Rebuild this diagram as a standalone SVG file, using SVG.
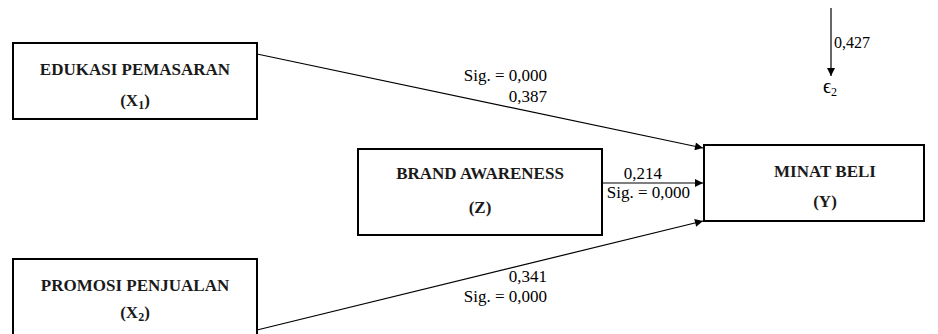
<svg xmlns="http://www.w3.org/2000/svg" width="938" height="334" viewBox="0 0 938 334">
<defs>
<marker id="ah" viewBox="0 0 10 10" refX="10" refY="5" markerWidth="10" markerHeight="8" markerUnits="userSpaceOnUse" orient="auto">
<path d="M0,0 L10,5 L0,10 Z" fill="#000"/>
</marker>
</defs>
<rect width="938" height="334" fill="#fff"/>
<g id="connectors" stroke="#000" stroke-width="1.2" fill="none">
<line x1="257" y1="54" x2="703" y2="148" marker-end="url(#ah)"/>
<line x1="257" y1="330" x2="703" y2="221" marker-end="url(#ah)"/>
<line x1="602" y1="183" x2="703" y2="183" marker-end="url(#ah)"/>
<line x1="831" y1="8" x2="831" y2="76" marker-end="url(#ah)"/>
</g>
<g id="labels" fill="#000" stroke="none">
<text x="547" y="81" text-anchor="end" font-family="Liberation Serif" font-size="17">Sig. = 0,000</text>
<text x="547" y="102" text-anchor="end" font-family="Liberation Serif" font-size="17">0,387</text>
<text x="662" y="179" text-anchor="end" font-family="Liberation Serif" font-size="17">0,214</text>
<text x="690" y="198" text-anchor="end" font-family="Liberation Serif" font-size="17">Sig. = 0,000</text>
<text x="547" y="282" text-anchor="end" font-family="Liberation Serif" font-size="17">0,341</text>
<text x="547" y="302" text-anchor="end" font-family="Liberation Serif" font-size="17">Sig. = 0,000</text>
<text x="834" y="48" font-family="Liberation Serif" font-size="16">0,427</text>
<text x="823" y="93" font-family="Liberation Serif" font-size="20">ϵ<tspan dy="3" font-size="12">2</tspan></text>
</g>
<g id="edukasi">
<rect x="13" y="43" width="244" height="76" fill="#fff" stroke="#000" stroke-width="2"/>
<text x="135" y="75" text-anchor="middle" font-family="Liberation Serif" font-weight="bold" font-size="17" fill="#1a1a1a">EDUKASI PEMASARAN</text>
<text x="135" y="106" text-anchor="middle" font-family="Liberation Serif" font-weight="bold" font-size="17" fill="#1a1a1a">(X<tspan dy="3" font-size="12">1</tspan><tspan dy="-3">)</tspan></text>
</g>
<g id="promosi">
<rect x="13" y="259" width="244" height="90" fill="#fff" stroke="#000" stroke-width="2"/>
<text x="135" y="291" text-anchor="middle" font-family="Liberation Serif" font-weight="bold" font-size="17" fill="#1a1a1a">PROMOSI PENJUALAN</text>
<text x="135" y="318" text-anchor="middle" font-family="Liberation Serif" font-weight="bold" font-size="17" fill="#1a1a1a">(X<tspan dy="3" font-size="12">2</tspan><tspan dy="-3">)</tspan></text>
</g>
<g id="brand">
<rect x="358" y="149" width="244" height="86" fill="#fff" stroke="#000" stroke-width="2"/>
<text x="480" y="179" text-anchor="middle" font-family="Liberation Serif" font-weight="bold" font-size="17" fill="#1a1a1a">BRAND AWARENESS</text>
<text x="480" y="213" text-anchor="middle" font-family="Liberation Serif" font-weight="bold" font-size="17" fill="#1a1a1a">(Z)</text>
</g>
<g id="minat">
<rect x="704" y="145" width="220" height="76" fill="#fff" stroke="#000" stroke-width="2"/>
<text x="825" y="177" text-anchor="middle" font-family="Liberation Serif" font-weight="bold" font-size="17" fill="#1a1a1a">MINAT BELI</text>
<text x="825" y="207" text-anchor="middle" font-family="Liberation Serif" font-weight="bold" font-size="17" fill="#1a1a1a">(Y)</text>
</g>
</svg>
